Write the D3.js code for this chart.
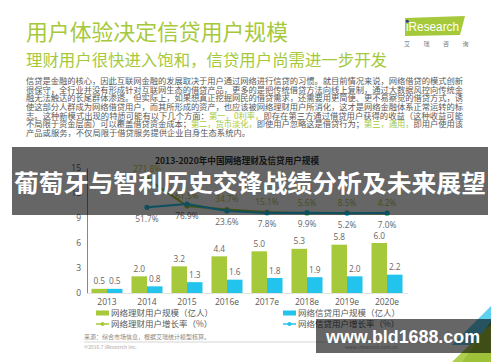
<!DOCTYPE html>
<html>
<head>
<meta charset="utf-8">
<script src="https://cdn.jsdelivr.net/npm/d3@7"></script>
<style>
  body { margin: 0; background: #fff; }
  svg { display: block; font-family: "Noto Sans CJK SC", "Noto Sans", sans-serif; }
</style>
</head>
<body>
<div id="container"></div>
<script>
// data
const years = ["2013", "2014", "2015", "2016e", "2017e", "2018e", "2019e", "2020e"];
const licaiUsers = [0.5, 2.0, 3.2, 4.4, 5.0, 5.3, 5.8, 6.0];
const xindaiUsers = [0.5, 0.8, 1.3, 1.6, 1.8, 1.9, 2.0, 2.2];
const licaiGrowth = [null, 271.8, 61.5, 34.7, 15.1, 5.6, 8.5, 4.2];
const xindaiGrowth = [null, 51.7, 76.9, 23.6, 7.8, 9.9, 5.2, 7.0];
const yTicks = [0, 3, 6, 9, 12, 15];

const paraLines = [
  [["信贷是金融的核心，因此互联网金融的发展取决于用户通过网络进行信贷的习惯。就目前情况来说，网络借贷的模式创新", 0]],
  [["很保守，全行业并没有形成针对互联网生态的借贷产品，更多的是把传统借贷方法向线上复制，通过大数据风控向传统金", 0]],
  [["融无法触达的长尾群体渗透。但实际上，如果想真正挖掘网民的借贷需求，还需要用更简便、更不易察觉的借贷方式，诱", 0]],
  [["使这部分人群成为网络借贷用户，而其所形成的资产，也应该被网络理财用户所消化，这才是网络金融体系正常运转的标", 0]],
  [["志。这种新模式出现的特质可能有以下几个方面：", 0], ["第一，0利率，", 1], ["即存在第三方通过借贷用户获得的收益（这种收益可能", 0]],
  [["不局限于资金层面）可以覆盖借贷资金成本；", 0], ["第二，货币淡化，", 1], ["即使用户忽略这是借贷行为；", 0], ["第三，通用，", 1], ["即用户使用该", 0]],
  [["产品或服务，不仅局限于借贷服务提供企业自身生态系统内。", 0]]
];

const width = 500, height = 362;
const green = "#a6c93b", blue = "#22c4ee", gray = "#595959";

const svg = d3.select("#container").append("svg")
  .attr("width", width).attr("height", height);

// header
svg.append("text").attr("x", 26).attr("y", 40)
  .attr("font-size", 21.5).attr("fill", green)
  .attr("textLength", 262).attr("lengthAdjust", "spacingAndGlyphs")
  .text("用户体验决定信贷用户规模");
svg.append("text").attr("x", 26).attr("y", 66)
  .attr("font-size", 16).attr("fill", green)
  .attr("textLength", 361).attr("lengthAdjust", "spacingAndGlyphs")
  .text("理财用户很快进入饱和，信贷用户尚需进一步开发");

// logo
const logo = svg.append("g");
logo.append("path").attr("d", "M405,18 L465,16 L460,35 L405,36 Z").attr("fill", green);
logo.append("text").attr("x", 406).attr("y", 31).attr("font-size", 12.5)
  .attr("font-family", "Liberation Sans, Arial, sans-serif")
  .attr("fill", "#fff").attr("textLength", 53).attr("lengthAdjust", "spacingAndGlyphs")
  .text("iResearch");
logo.append("circle").attr("cx", 407.3).attr("cy", 21.3).attr("r", 1.5).attr("fill", "#1a3b8c");
["艾", "瑞", "咨", "询"].forEach((c, i) => {
  logo.append("text").attr("x", 407 + i * 19.5).attr("y", 46).attr("font-size", 6)
    .attr("fill", "#777").attr("text-anchor", "middle").text(c);
});

// paragraph, lines 1-6 justified to the full width
paraLines.forEach((line, i) => {
  const t = svg.append("text").attr("x", 26).attr("y", 84 + i * 8.65)
    .attr("font-size", 8.3).attr("fill", gray);
  if (i < 6) t.attr("textLength", 437).attr("lengthAdjust", "spacing");
  line.forEach(([s, hl]) => {
    t.append("tspan").attr("fill", hl ? green : gray).text(s);
  });
});

// chart
const x = d3.scaleBand().domain(years).range([87, 407]);
const x1 = d3.scaleBand().domain(["licai", "xindai"]).range([4.5, 35.5]);
const y = d3.scaleLinear().domain([0, 15]).range([293, 168]);
const y2 = d3.scaleLinear().domain([0, 300]).range([214, 175]);
const cx = d => x(d) + x.bandwidth() / 2;

svg.append("text").attr("x", 237).attr("y", 164).attr("text-anchor", "middle")
  .attr("font-size", 8.6).attr("font-weight", "bold").attr("fill", "#333")
  .text("2013-2020年中国网络理财及信贷用户规模");

const yAxis = svg.append("g").attr("transform", "translate(87,0)")
  .call(d3.axisLeft(y).tickValues(yTicks).tickSize(0).tickPadding(6).tickSizeOuter(0));
yAxis.select(".domain").attr("stroke", "#888");
yAxis.selectAll("text").attr("font-size", 8.5).attr("fill", gray).attr("font-family", "Open Sans, sans-serif");

const xAxis = svg.append("g").attr("transform", "translate(0,293)")
  .call(d3.axisBottom(x).tickSize(0).tickPadding(6).tickSizeOuter(0));
xAxis.select(".domain").attr("stroke", "#e4e4e4");
xAxis.selectAll("text").attr("font-size", 8.5).attr("fill", gray).attr("font-family", "Open Sans, sans-serif");

const bars = [
  { key: "licai", vals: licaiUsers, color: green },
  { key: "xindai", vals: xindaiUsers, color: blue }
];
bars.forEach(b => {
  svg.append("g").selectAll("rect").data(years).join("rect")
    .attr("x", d => x(d) + x1(b.key))
    .attr("width", x1.bandwidth())
    .attr("y", (d, i) => y(b.vals[i]))
    .attr("height", (d, i) => y(0) - y(b.vals[i]))
    .attr("fill", b.color);
  svg.append("g").selectAll("text").data(years).join("text")
    .attr("x", d => x(d) + x1(b.key) + x1.bandwidth() / 2)
    .attr("y", (d, i) => y(b.vals[i]) - 4.5)
    .attr("text-anchor", "middle").attr("font-size", 8.3).attr("fill", "#666")
    .attr("font-family", "Open Sans, sans-serif")
    .text((d, i) => b.vals[i].toFixed(1));
});

const lines = [
  { vals: licaiGrowth, color: green, dy: -7, labColor: "#b7bf45" },
  { vals: xindaiGrowth, color: blue, dy: 14.5, labColor: "#666" }
];
lines.forEach(l => {
  const pts = years.map((d, i) => [d, l.vals[i]]).filter(p => p[1] !== null);
  svg.append("path").datum(pts)
    .attr("d", d3.line().x(p => cx(p[0])).y(p => y2(p[1])))
    .attr("fill", "none").attr("stroke", l.color).attr("stroke-width", 2);
  svg.append("g").selectAll("circle").data(pts).join("circle")
    .attr("cx", p => cx(p[0])).attr("cy", p => y2(p[1])).attr("r", 2.6)
    .attr("fill", l.color);
  svg.append("g").selectAll("text").data(pts).join("text")
    .attr("x", p => cx(p[0])).attr("y", p => y2(p[1]) + l.dy)
    .attr("text-anchor", "middle").attr("font-size", 8.3).attr("fill", l.labColor)
    .attr("font-family", "Open Sans, sans-serif")
    .text(p => p[1].toFixed(1) + "%");
});

// legend
const legend = [
  { x: 96, y: 313, label: "网络理财用户规模（亿人）", color: green, type: "bar" },
  { x: 283, y: 313, label: "网络信贷用户规模（亿人）", color: blue, type: "bar" },
  { x: 96, y: 324, label: "网络理财用户增长率（%）", color: green, type: "line" },
  { x: 283, y: 324, label: "网络信贷用户增长率（%）", color: blue, type: "line" }
];
legend.forEach(l => {
  const g = svg.append("g");
  if (l.type === "bar") {
    g.append("rect").attr("x", l.x).attr("y", l.y - 2.5).attr("width", 13).attr("height", 5).attr("fill", l.color);
  } else {
    g.append("line").attr("x1", l.x).attr("x2", l.x + 13).attr("y1", l.y).attr("y2", l.y)
      .attr("stroke", l.color).attr("stroke-width", 1.5);
    g.append("circle").attr("cx", l.x + 6.5).attr("cy", l.y).attr("r", 2).attr("fill", l.color);
  }
  g.append("text").attr("x", l.x + 15).attr("y", l.y + 3).attr("font-size", 8.5)
    .attr("fill", gray).text(l.label);
});

// footer
svg.append("text").attr("x", 84).attr("y", 338.5).attr("font-size", 6).attr("fill", "#888")
  .text("来源：综合市场信息，根据艾瑞统计模型核算。");
svg.append("line").attr("x1", 84).attr("x2", 490).attr("y1", 342).attr("y2", 342)
  .attr("stroke", "#ccc").attr("stroke-width", 0.8);
svg.append("text").attr("x", 84).attr("y", 349).attr("font-size", 5).attr("fill", "#aaa")
  .text("©2016.7 iResearch Inc.");
svg.append("text").attr("x", 345).attr("y", 349).attr("font-size", 5).attr("fill", "#aaa")
  .text("www.iresearch.com.cn");
svg.append("text").attr("x", 475).attr("y", 352).attr("font-size", 7).attr("fill", "#999")
  .text("11");

// corner decoration
svg.append("path").attr("d", "M491,306 L491,345 L452,345 Z").attr("fill", "#5fd0ee");
svg.append("path").attr("d", "M491,322 L491,362 L462,362 Z").attr("fill", "#4d7a1e");
svg.append("path").attr("d", "M452,362 L491,362 L491,324 Z").attr("fill", green).attr("opacity", 0.9);

// overlay band with headline
svg.append("rect").attr("x", 12).attr("y", 147).attr("width", 476).attr("height", 68)
  .attr("fill", "rgba(0,0,0,0.6)");
svg.append("text").attr("x", 14).attr("y", 192).attr("font-size", 23.5)
  .attr("font-weight", "bold").attr("fill", "#fff")
  .attr("textLength", 472).attr("lengthAdjust", "spacingAndGlyphs")
  .text("葡萄牙与智利历史交锋战绩分析及未来展望");

// watermark
svg.append("rect").attr("x", 316).attr("y", 319).attr("width", 175).attr("height", 34)
  .attr("fill", "rgba(0,0,0,0.6)");
svg.append("text").attr("x", 326).attr("y", 343).attr("font-size", 18)
  .attr("font-weight", "bold").attr("fill", "#fff")
  .attr("font-family", "Liberation Sans, Arial, sans-serif")
  .attr("textLength", 154).attr("lengthAdjust", "spacingAndGlyphs")
  .text("www.bld1688.com");
</script>
</body>
</html>
